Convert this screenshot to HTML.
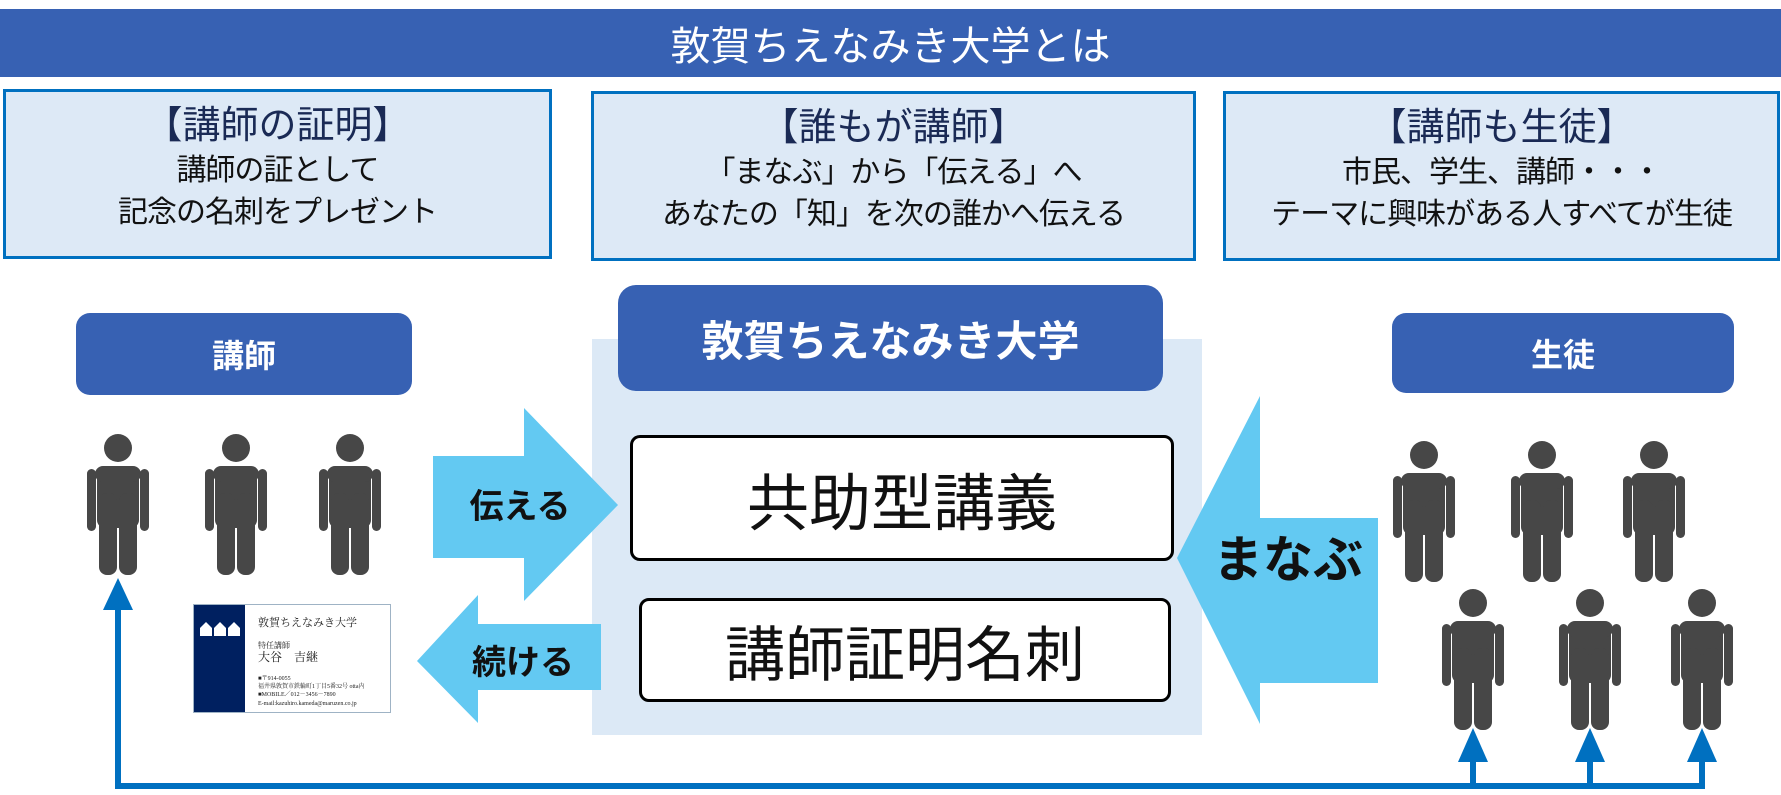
<!DOCTYPE html>
<html><head><meta charset="utf-8"><style>
body{margin:0;width:1781px;height:795px;background:#fff;position:relative;overflow:hidden;font-family:"Liberation Sans","Noto Sans CJK JP",sans-serif}
div{position:absolute;box-sizing:border-box}
.c{display:flex;align-items:center;justify-content:center;text-align:center}
.hd{background:#3761b3;color:#fff;font-weight:bold;border-radius:14px}
.bx{border:3px solid #0070c0;background:#dde9f6;color:#111;text-align:center}
.bx .t{position:static;font-size:38px;line-height:48px;margin-top:10px;color:#1a2a55}
.bx .s{position:static;font-size:30px;line-height:42px;letter-spacing:-1px}
.wb{background:#fff;border:3px solid #000;border-radius:10px;color:#111}
</style></head><body>
<div class="c" style="left:0;top:9px;width:1781px;height:68px;background:#3761b3;color:#fff;font-size:40px">敦賀ちえなみき大学とは</div>

<div class="bx" style="left:3px;top:89px;width:549px;height:170px"><div class="t">【講師の証明】</div><div class="s">講師の証として<br>記念の名刺をプレゼント</div></div>
<div class="bx" style="left:591px;top:91px;width:605px;height:170px"><div class="t">【誰もが講師】</div><div class="s">「まなぶ」から「伝える」へ<br>あなたの「知」を次の誰かへ伝える</div></div>
<div class="bx" style="left:1223px;top:91px;width:557px;height:170px"><div class="t">【講師も生徒】</div><div class="s">市民、学生、講師・・・<br>テーマに興味がある人すべてが生徒</div></div>

<div class="hd c" style="left:76px;top:313px;width:336px;height:82px;font-size:32px">講師</div>
<div class="hd c" style="left:1392px;top:313px;width:342px;height:80px;font-size:32px">生徒</div>

<div style="left:592px;top:339px;width:610px;height:396px;background:#dce9f6"></div>
<div class="hd c" style="left:618px;top:285px;width:545px;height:106px;font-size:42px;border-radius:18px">敦賀ちえなみき大学</div>
<div class="wb c" style="left:630px;top:435px;width:544px;height:126px;font-size:62px">共助型講義</div>
<div class="wb c" style="left:639px;top:598px;width:532px;height:104px;font-size:60px">講師証明名刺</div>

<svg style="position:absolute;left:0;top:0" width="1781" height="795">
<defs>
<g id="p" fill="#474747">
<circle cx="31" cy="15" r="14"/>
<rect x="10" y="33" width="42" height="62" rx="8"/>
<rect x="0" y="36" width="9" height="62" rx="4.5"/>
<rect x="53" y="36" width="9" height="62" rx="4.5"/>
<rect x="12" y="60" width="18" height="82" rx="8"/>
<rect x="32" y="60" width="18" height="82" rx="8"/>
<rect x="8" y="33" width="46" height="16" rx="8"/>
</g>
</defs>
<polygon fill="#63c9f2" points="433,456 524,456 524,408 618,505 524,601 524,558 433,558"/>
<polygon fill="#63c9f2" points="601,624 478,624 478,595 417,661 478,723 478,690 601,690"/>
<polygon fill="#63c9f2" points="1378,518 1260,518 1260,396 1177,558 1260,724 1260,683 1378,683"/>
<g font-family="Liberation Sans,Noto Sans CJK JP,sans-serif" font-weight="bold" fill="#111" text-anchor="middle">
<text x="520" y="518" font-size="34">伝える</text>
<text x="523" y="674" font-size="34">続ける</text>
<text x="1288" y="577" font-size="50">まなぶ</text>
</g>
<use href="#p" x="87" y="433"/><use href="#p" x="205" y="433"/><use href="#p" x="319" y="433"/>
<use href="#p" x="1393" y="440"/><use href="#p" x="1511" y="440"/><use href="#p" x="1623" y="440"/>
<use href="#p" x="1442" y="588"/><use href="#p" x="1559" y="588"/><use href="#p" x="1671" y="588"/>
<g stroke="#0070c0" stroke-width="6" fill="none">
<polyline points="118,606 118,786 1702,786 1702,758"/>
<line x1="1473" y1="786" x2="1473" y2="758"/>
<line x1="1590" y1="786" x2="1590" y2="758"/>
</g>
<g fill="#0070c0">
<polygon points="118,578 103,610 133,610"/>
<polygon points="1473,728 1458,762 1488,762"/>
<polygon points="1590,728 1575,762 1605,762"/>
<polygon points="1702,728 1687,762 1717,762"/>
</g>
<rect x="193.5" y="604.5" width="197" height="108" fill="#fff" stroke="#9fb3c5"/>
<rect x="194" y="605" width="51" height="107" fill="#002060"/>
<g fill="#fff"><polygon points="200,628 206,622 212,628 212,636 200,636"/><polygon points="214,628 220,622 226,628 226,636 214,636"/><polygon points="228,628 234,622 240,628 240,636 228,636"/></g>
<g font-family="Liberation Serif,Noto Serif CJK SC,serif" fill="#222">
<text x="258" y="626" font-size="11">敦賀ちえなみき大学</text>
<text x="258" y="648" font-size="8">特任講師</text>
<text x="258" y="661" font-size="12">大谷　吉継</text>
<text x="258" y="680" font-size="6">■〒914-0055</text>
<text x="258" y="688" font-size="6">福井県敦賀市鉄輪町1丁目5番32号 otta内</text>
<text x="258" y="696" font-size="6">■MOBILE／012－3456－7890</text>
<text x="258" y="705" font-size="6">E-mail:kazuhiro.kameda@maruzen.co.jp</text>
</g>
</svg>
</body></html>
